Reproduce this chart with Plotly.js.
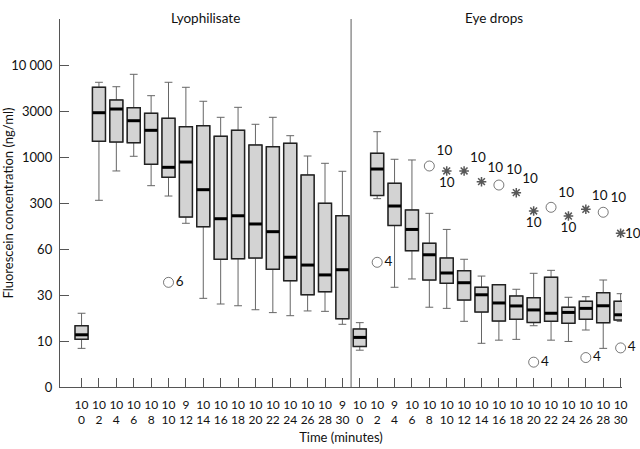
<!DOCTYPE html>
<html>
<head>
<meta charset="utf-8">
<script src="https://cdn.plot.ly/plotly-3.0.1.min.js"></script>
<style>html,body{margin:0;padding:0;background:#fff}</style>
</head>
<body>
<div id="chart" style="width:640px;height:449px"></div>
<script>
// sampling times (minutes), same for both preparations
const times = [0, 2, 4, 6, 8, 10, 12, 14, 16, 18, 20, 22, 24, 26, 28, 30];

// Lyophilisate, ng/ml
const lyoN = [10, 10, 10, 10, 10, 10, 9, 10, 10, 10, 10, 10, 10, 10, 10, 9];
const lyoUpper = [19.4, 6360, 5665, 7840, 4480, 6360, 5580, 3870, 2581, 3303, 2184, 2581, 1663, 1024, 848, 688];
const lyoQ3 = [14.4, 5580, 4000, 3270, 2840, 2519, 2063, 2111, 1640, 1891, 1332, 1279, 1387, 625, 297, 192];
const lyoMedian = [11.6, 2880, 3160, 2379, 1891, 763, 877, 425, 173, 192, 144, 110, 53, 47.1, 40.6, 43.9];
const lyoQ1 = [10.4, 1454, 1431, 1407, 826, 588, 184, 131, 51.4, 51.8, 52.4, 44.2, 37.2, 30.1, 31.5, 17.0];
const lyoLower = [8.4, 322, 694, 1017, 472, 360, 147.5, 27.7, 24.2, 23.2, 21.1, 19.7, 18.3, 20.5, 20.3, 14.9];

// Eye drops, ng/ml
const eyeN = [10, 10, 9, 10, 10, 10, 10, 10, 10, 10, 10, 10, 10, 10, 10, 10];
const eyeUpper = [15.5, 1830, 942, 925, 209, 119, 51.4, 39.9, 35.0, 32.7, 41.6, 43.5, 28.4, 28.8, 37.6, 30.6];
const eyeQ3 = [13.3, 1092, 502, 235, 73.3, 52.4, 43.3, 33.7, 35.0, 29.3, 28.1, 39.2, 22.4, 25.8, 31.0, 25.8];
const eyeMedian = [10.9, 730, 270, 119, 55, 41.8, 36.1, 30.1, 24.8, 23.1, 21.0, 19.4, 19.8, 21.8, 23.2, 18.7];
const eyeQ1 = [8.8, 365, 137, 58.5, 37.6, 35.8, 26.6, 20.0, 16.1, 16.8, 15.6, 16.0, 15.3, 16.8, 15.5, 16.5];
const eyeLower = [8.0, 336, 33.7, 38.2, 22.4, 21.8, 16.0, 9.5, 10.2, 10.4, 14.4, 10.2, 9.9, 13.0, 8.4, 16.0];

// outliers (o) and extremes (*), labelled with the case number
const outGroup = ['lyo', 'eye', 'eye', 'eye', 'eye', 'eye', 'eye', 'eye', 'eye', 'eye', 'eye', 'eye', 'eye', 'eye', 'eye', 'eye', 'eye'];
const outTime = [10, 2, 8, 10, 12, 14, 16, 18, 20, 22, 24, 26, 28, 30, 20, 26, 30];
const outValue = [36.3, 49.1, 790, 694, 694, 524, 480, 393, 227, 258, 190, 241, 217, 104, 5.4, 6.4, 8.5];
const outKind = ['o', 'o', 'o', '*', '*', '*', 'o', '*', '*', 'o', '*', '*', 'o', '*', 'o', 'o', 'o'];
const outCase = ['6', '4', '10', '10', '10', '10', '10', '10', '10', '10', '10', '10', '10', '10', '4', '4', '4'];

// y axis is labelled at uneven steps, equally spaced on the page
const yTickVals = [0, 10, 30, 60, 300, 1000, 3000, 10000, 30000];
const yTickText = ['0', '10', '30', '60', '300', '1000', '3000', '10 000', ''];

function toAxis(v) {
  if (v <= yTickVals[1]) return v / yTickVals[1];
  for (let k = 1; k < yTickVals.length - 1; k++) {
    if (v < yTickVals[k + 1] || k === yTickVals.length - 2) {
      return k + Math.log(v / yTickVals[k]) / Math.log(yTickVals[k + 1] / yTickVals[k]);
    }
  }
}

const pos = times.map((t, i) => i).concat(times.map((t, i) => i + 16));
const upper = lyoUpper.concat(eyeUpper).map(toAxis);
const q3 = lyoQ3.concat(eyeQ3).map(toAxis);
const med = lyoMedian.concat(eyeMedian).map(toAxis);
const q1 = lyoQ1.concat(eyeQ1).map(toAxis);
const lower = lyoLower.concat(eyeLower).map(toAxis);
const tickText = lyoN.concat(eyeN).map((n, i) => n + '<br>' + times[i % 16]);

const outX = outTime.map((t, i) => t / 2 + (outGroup[i] === 'eye' ? 16 : 0));
const outY = outValue.map(toAxis);
const labelPos = ['middle right', 'middle right', 'top right', 'bottom center', 'top right', 'top right',
  'top right', 'top right', 'bottom center', 'top right', 'bottom center', 'top right', 'top right',
  'middle right', 'middle right', 'middle right', 'middle right'];
// the last extreme sits at the page edge: its label goes in an annotation hugging the marker
const EDGE = 13;
const outText = outCase.map((c, i) => (i === EDGE ? '' : c));

const FONT = 'Lato, "Liberation Sans", sans-serif';
const BOXW = 0.75;

const whiskers = {
  type: 'box', x: pos, q1: q1, median: med, q3: q3, lowerfence: lower, upperfence: upper,
  width: BOXW, whiskerwidth: 0.6, fillcolor: 'rgba(0,0,0,0)',
  line: { color: '#666', width: 1 }, hoverinfo: 'skip', showlegend: false
};
const boxes = {
  type: 'box', x: pos, q1: q1, median: med, q3: q3, lowerfence: q1, upperfence: q3,
  width: BOXW, whiskerwidth: 0, fillcolor: '#d3d3d3',
  line: { color: '#222', width: 1.5 }, hoverinfo: 'skip', showlegend: false
};
// thick median bars, same width as the boxes (line-ew is 1.4 x size long)
const medians = {
  type: 'scatter', mode: 'markers', x: pos, y: med,
  marker: { symbol: 'line-ew', size: 9.2, line: { color: '#000', width: 3 } },
  hoverinfo: 'skip', showlegend: false
};
const outliers = {
  type: 'scatter', mode: 'markers+text', x: outX, y: outY,
  text: outText, textposition: labelPos, cliponaxis: false,
  textfont: { family: FONT, size: 13.5, color: '#111' },
  marker: {
    symbol: outKind.map(k => (k === 'o' ? 'circle-open' : 'asterisk-open')),
    size: outKind.map(k => (k === 'o' ? 10 : 8)),
    color: '#111', line: { width: outKind.map(k => (k === 'o' ? 0.8 : 1.5)), color: '#111' }
  },
  hoverinfo: 'skip', showlegend: false
};

const layout = {
  width: 640, height: 449,
  margin: { l: 60, r: 18, t: 19, b: 62 },
  paper_bgcolor: '#fff', plot_bgcolor: '#fff',
  font: { family: FONT, size: 12, color: '#111' },
  boxmode: 'overlay',
  xaxis: {
    range: [-1.24, 31.08], showgrid: false, zeroline: false,
    showline: true, linecolor: '#555', linewidth: 1.2,
    ticks: 'inside', ticklen: 9, tickcolor: '#555', tickwidth: 1,
    tickvals: pos, ticktext: tickText, tickangle: 0, ticklabelstandoff: 6,
    tickfont: { size: 12 },
    title: { text: 'Time (minutes)', font: { size: 13 }, standoff: 6 }
  },
  yaxis: {
    range: [0, 8], showgrid: false, zeroline: false,
    showline: true, linecolor: '#555', linewidth: 1.2,
    ticks: 'inside', ticklen: 9, tickcolor: '#555', tickwidth: 1,
    tickvals: yTickVals.map(toAxis), ticktext: yTickText, ticklabelstandoff: 4,
    tickfont: { size: 13 },
    title: { text: 'Fluorescein concentration (ng/ml)', font: { size: 13 }, standoff: 2 }
  },
  shapes: [{
    type: 'line', xref: 'x', yref: 'paper', x0: 15.5, x1: 15.5, y0: 0, y1: 1,
    line: { color: '#777', width: 1.2 }
  }],
  annotations: [
    { text: 'Lyophilisate', xref: 'x', yref: 'paper', x: 7.13, y: 1.03, showarrow: false, font: { size: 13.5 } },
    { text: 'Eye drops', xref: 'x', yref: 'paper', x: 23.7, y: 1.03, showarrow: false, font: { size: 13.5 } },
    { text: 'N =', xref: 'x', yref: 'paper', x: -2.2, y: -0.041, showarrow: false, font: { size: 13 } },
    { text: outCase[EDGE], xref: 'x', yref: 'y', x: outX[EDGE], y: outY[EDGE], xanchor: 'left', xshift: 2,
      showarrow: false, font: { size: 13.5 } }
  ]
};

Plotly.newPlot('chart', [whiskers, boxes, medians, outliers], layout, { displayModeBar: false, staticPlot: true });
</script>
</body>
</html>
